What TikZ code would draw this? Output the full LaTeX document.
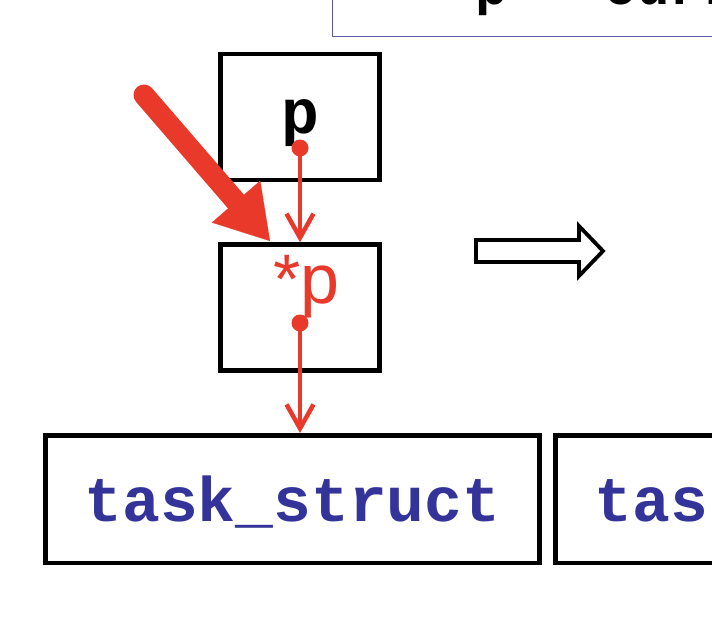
\documentclass[tikz,border=0pt]{standalone}
\usepackage{fontspec}
\newfontfamily\monofam{Liberation Mono}
\newfontfamily\helvfam{Liberation Sans}
\usetikzlibrary{arrows.meta}
\definecolor{ptrred}{HTML}{E8392A}
\definecolor{tsblue}{HTML}{333399}
\definecolor{frameblue}{HTML}{5A5AA8}
\tikzset{
  cellbox/.style={draw=black, line width=4.5pt, minimum width=159pt, minimum height=126pt, inner sep=0pt},
  tsbox/.style={draw=black, line width=4.5pt, minimum width=494pt, minimum height=127.5pt, inner sep=0pt,
    text=tsblue, font=\monofam\bfseries\fontsize{63}{63}\selectfont, text height=45pt, text depth=0pt},
  monotxt/.style={font=\monofam\bfseries\fontsize{63}{63}\selectfont},
  ptrline/.style={draw=ptrred, line width=4.5pt, -{Straight Barb[length=24pt,width=27pt,line width=4.5pt]}},
  ptrdot/.style={circle, fill=ptrred, inner sep=0pt, minimum size=17pt},
  bigarrow/.style={draw=ptrred, line width=21pt, line cap=round, -{Triangle[length=52pt,width=64pt,line width=0.1pt]}},
  hollowarrow/.style={draw=black, line width=3.8pt, fill=white, line join=miter}
}
\begin{document}
\begin{tikzpicture}[x=1pt,y=-1pt]
\useasboundingbox (0,0) rectangle (712,632);
\clip (0,0) rectangle (712,632);
\fill[white] (0,0) rectangle (712,632);
% top frame
\node[draw=frameblue, line width=1.8pt, minimum width=480pt, minimum height=100pt, inner sep=0pt] (topframe) at (572.5,-13.5) {};
\node[font=\monofam\bfseries\fontsize{54}{54}\selectfont, anchor=base west, inner sep=0pt] (toptext) at (475,4) {p = current};
% cells
\node[cellbox, text height=32pt, text depth=0pt, monotxt] (pbox) at (300,117) {p};
\node[cellbox] (pstar) at (300,307.5) {};
\node[anchor=base west, inner sep=0pt, text=ptrred, font=\helvfam\fontsize{70}{70}\selectfont] (pstarlabel) at (273,303) {*p};
% task_struct boxes
\node[tsbox] (ts1) at (292.5,499) {task\_struct};
\node[tsbox] (ts2) at (802.5,499) {task\_struct};
% pointers
\coordinate (d1) at (300,148);
\coordinate (d2) at (300,323);
\draw[ptrline] (d1) -- (pstar.north);
\draw[ptrline] (d2) -- (ts1.north -| d2);
\node[ptrdot] (dot1) at (d1) {};
\node[ptrdot] (dot2) at (d2) {};
% big red arrow
\coordinate (bigstart) at (144,95);
\coordinate (bigtip) at (270,241);
\draw[bigarrow] (bigstart) -- (bigtip);
% hollow arrow
\draw[hollowarrow] (476,240) -- (579,240) -- (579,226) -- (603,251) -- (579,276) -- (579,262) -- (476,262) -- cycle;
\end{tikzpicture}
\end{document}
